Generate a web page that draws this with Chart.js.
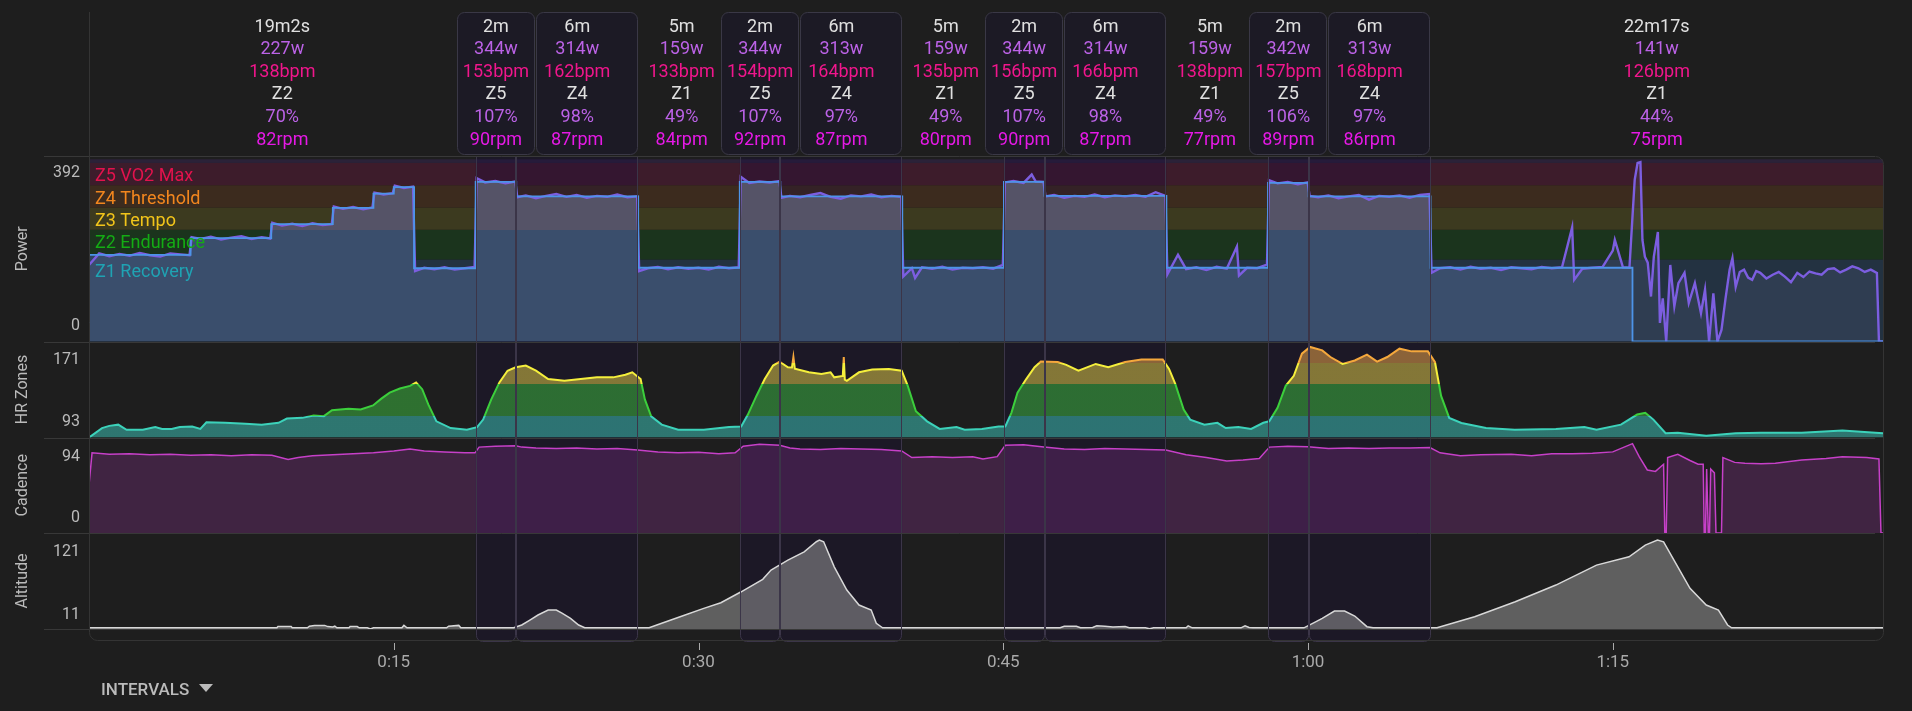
<!DOCTYPE html>
<html>
<head>
<meta charset="utf-8">
<script src="https://cdn.jsdelivr.net/npm/chart.js@4.4.1/dist/chart.umd.min.js"></script>
<style>
  html, body { margin: 0; padding: 0; background: #1e1e1e; }
  #wrap { position: relative; width: 1912px; height: 711px; }
  #intervals { position: absolute; left: 101px; top: 679px; font: 500 17px Roboto, sans-serif; color: #bbb; }
  #intervals .caret { display: inline-block; width: 0; height: 0; border-left: 7px solid transparent;
    border-right: 7px solid transparent; border-top: 8px solid #bbb; margin-left: 10px; position: relative; top: -3px; }
</style>
</head>
<body>
<div id="wrap">
  <canvas id="chart" width="1912" height="711"></canvas>
  <div id="intervals">INTERVALS<span class="caret"></span></div>
</div>
<script>
// ---- intervals (minutes) ----
const intervalStart = [0, 19.03, 21.03, 27.03, 32.03, 34.03, 40.03, 45.03, 47.03, 53.03, 58.03, 60.03, 66.03];
const intervalEnd   = [19.03, 21.03, 27.03, 32.03, 34.03, 40.03, 45.03, 47.03, 53.03, 58.03, 60.03, 66.03, 88.3];
const intervalWork  = [0, 1, 1, 0, 1, 1, 0, 1, 1, 0, 1, 1, 0];
const intervalDur   = ['19m2s', '2m', '6m', '5m', '2m', '6m', '5m', '2m', '6m', '5m', '2m', '6m', '22m17s'];
const intervalWatts = ['227w', '344w', '314w', '159w', '344w', '313w', '159w', '344w', '314w', '159w', '342w', '313w', '141w'];
const intervalBpm   = ['138bpm', '153bpm', '162bpm', '133bpm', '154bpm', '164bpm', '135bpm', '156bpm', '166bpm', '138bpm', '157bpm', '168bpm', '126bpm'];
const intervalZone  = ['Z2', 'Z5', 'Z4', 'Z1', 'Z5', 'Z4', 'Z1', 'Z5', 'Z4', 'Z1', 'Z5', 'Z4', 'Z1'];
const intervalPct   = ['70%', '107%', '98%', '49%', '107%', '97%', '49%', '107%', '98%', '49%', '106%', '97%', '44%'];
const intervalRpm   = ['82rpm', '90rpm', '87rpm', '84rpm', '92rpm', '87rpm', '80rpm', '90rpm', '87rpm', '77rpm', '89rpm', '86rpm', '75rpm'];

// ---- axis tick labels ----
const timeTicks = [15, 30, 45, 60, 75];
const timeLabels = ['0:15', '0:30', '0:45', '1:00', '1:15'];
const powerTicks = ['0', '392'];
const hrTicks = ['93', '171'];
const cadTicks = ['0', '94'];
const altTicks = ['11', '121'];

// ---- power zones (watts) ----
const powerZoneNames = ['Z1 Recovery', 'Z2 Endurance', 'Z3 Tempo', 'Z4 Threshold', 'Z5 VO2 Max', ''];
const powerZoneFrom  = [0, 177, 241, 289, 337, 385];
const powerZoneTo    = [177, 241, 289, 337, 385, 393];

// ---- hr zones (chart units) ----
const hrZoneFrom = [93, 110.9, 136.4, 153.7];
const hrZoneTo   = [110.9, 136.4, 153.7, 171];

// ---- interval power steps ----
const stepMin   = [0, 5, 8.97, 12, 14, 15, 16, 19.03, 21.03, 27.03, 32.03, 34.03, 40.03, 45.03, 47.03, 53.03, 58.03, 60.03, 66.03, 75.97, 88.3];
const stepWatts = [187, 223, 253, 288, 319, 333, 158, 344, 313, 159, 344, 313, 159, 344, 314, 159, 342, 313, 159, 0, 0];

// ---- raw power ----
const powerMin = [
  0, 0.5, 1, 1.5, 2, 2.5, 3, 3.5, 4, 4.5, 4.95,
  5.05, 5.5, 6, 6.5, 7, 7.5, 8, 8.5, 8.92,
  9.02, 9.5, 10, 10.5, 11, 11.5, 11.95,
  12.05, 12.5, 13, 13.5, 13.95,
  14.05, 14.5, 14.95,
  15.05, 15.5, 15.95,
  16.05, 16.5, 17, 17.5, 18, 18.5, 18.98,
  19.08, 19.5, 20, 20.5, 20.98,
  21.08, 21.5, 22, 22.5, 23, 23.5, 24, 24.5, 25, 25.5, 26, 26.5, 26.98,
  27.08, 27.5, 28, 28.5, 29, 29.5, 30, 30.5, 31, 31.5, 31.98,
  32.08, 32.5, 33, 33.5, 33.98,
  34.08, 34.5, 35, 35.5, 36, 36.5, 37, 37.5, 38, 38.5, 39, 39.5, 39.98,
  40.08, 40.5, 40.66, 41, 41.5, 42, 42.5, 43, 43.5, 44, 44.5, 44.98,
  45.08, 45.5, 46, 46.4, 46.6, 46.98,
  47.08, 47.5, 48, 48.5, 49, 49.5, 50, 50.5, 51, 51.5, 52, 52.5, 52.98,
  53.08, 53.6, 54, 54.5, 55, 55.5, 56, 56.5, 56.6, 57, 57.5, 57.98,
  58.08, 58.5, 59, 59.5, 59.98,
  60.08, 60.5, 61, 61.5, 62, 62.5, 63, 63.5, 64, 64.5, 65, 65.5, 65.98,
  66.08, 66.5, 67, 67.5, 68, 68.5, 69, 69.5, 70, 70.5, 71, 71.5, 72, 72.5, 73, 73.1, 73.5, 74, 74.5, 75, 75.1, 75.5, 75.82,
  75.92, 76.08, 76.22, 76.36, 76.46, 76.58, 76.72, 76.88, 77.02, 77.22, 77.32, 77.46, 77.63, 77.83, 78.03, 78.23,
  78.53, 78.74, 79.04, 79.34, 79.54, 79.74, 79.95, 80.15, 80.35, 80.55, 80.75, 80.89,
  81.05, 81.25, 81.46, 81.66, 81.86, 82.06, 82.26, 82.56, 82.87, 83.17, 83.47, 83.77, 84.08, 84.38, 84.68, 84.98,
  85.28, 85.58, 85.89, 86.19, 86.49, 86.79, 87.09, 87.4, 87.7, 88.0, 88.1, 88.3
];
const powerWatts = [
  165, 190, 184, 189, 185, 191, 186, 183, 190, 188, 186,
  225, 221, 226, 220, 224, 227, 221, 225, 222,
  256, 250, 254, 249, 255, 251, 253,
  291, 286, 290, 285, 289,
  321, 317, 320,
  336, 331, 334,
  152, 159, 156, 160, 155, 158, 161,
  352, 343, 346, 341, 345,
  311, 315, 309, 314, 318, 312, 316, 310, 314, 312, 317, 311, 313,
  152, 158, 161, 156, 160, 157, 159, 155, 161, 158, 160,
  355, 342, 345, 343, 346,
  310, 314, 311, 316, 320, 312, 308, 315, 313, 317, 311, 314, 312,
  140, 158, 137, 160, 157, 161, 155, 159, 158, 160, 157, 165,
  343, 346, 342, 360, 345, 344,
  313, 316, 310, 314, 312, 317, 311, 315, 313, 316, 312, 322, 314,
  145, 187, 156, 160, 154, 161, 157, 205, 142, 159, 158, 166,
  348, 341, 344, 339, 343,
  314, 311, 315, 309, 313, 316, 306, 314, 312, 315, 310, 316, 318,
  148, 158, 160, 155, 161, 157, 159, 154, 160, 158, 156, 161, 158, 160, 246, 133, 157, 159, 161, 196, 219, 160, 159,
  233, 349, 385, 387, 219, 183, 170, 97, 183, 236, 40, 93, 0, 165, 76, 126,
  148, 83, 126, 61, 112, 0, 104, 0, 25, 93, 155, 180,
  118, 150, 155, 138, 133, 152, 148, 136, 144, 150, 140, 128, 148, 139, 151, 147,
  144, 156, 158, 149, 155, 162, 158, 150, 155, 148, 0, 0
];

// ---- heart rate ----
const hrMin = [
  0, 0.64, 1, 1.44, 1.85, 2.65, 3.26, 3.6, 4.07, 4.47, 5.08, 5.48, 5.78, 6.7, 7.7, 8.5, 9.33, 9.74, 10.5, 11.06,
  11.56, 11.96, 12.77, 13.37, 13.98, 14.39, 14.8, 15.3, 15.8, 16.1, 16.4, 16.7, 17.1, 17.8, 18.6, 19.1, 19.4, 19.8,
  20.2, 20.6, 21, 21.5, 22, 22.6, 23.4, 24.2, 25, 25.8, 26.4, 26.74, 27.15, 27.36, 27.67, 28.19, 29, 30.26, 31.5,
  32.1, 32.43, 32.85, 33.26, 33.67, 33.99, 34.4, 34.6, 34.67, 34.74, 35.43, 36.05, 36.5, 36.68, 37.1, 37.15, 37.2,
  37.3, 37.9, 38.55, 39.37, 40, 40.3, 40.7, 41.25, 41.87, 42.7, 43.1, 43.95, 44.77, 45.1, 45.4, 45.7, 46.13, 46.54,
  46.85, 47.68, 48.1, 48.7, 49.55, 50.17, 51, 51.8, 52.85, 53.16, 53.47, 53.88, 54.2, 54.9, 55.54, 55.95, 56.57,
  57.2, 57.8, 58.09, 58.5, 58.9, 59.3, 59.7, 60.1, 60.7, 61.1, 61.7, 62.3, 62.9, 63.4, 63.9, 64.5, 65.1, 65.9,
  66.25, 66.55, 66.95, 67.55, 68.76, 70.17, 72.2, 73.6, 74.2, 75.4, 76.2, 76.6, 77, 77.6, 78.2, 79.6, 81.05, 82.3,
  84.3, 86.3, 88.3
];
const hrVal = [
  93, 100.7, 102.5, 103.5, 99.3, 99.3, 101.5, 100, 100, 101.5, 102, 100, 105.4, 105, 104.3, 103.5, 105, 108.4, 109, 110.9,
  110.4, 115.2, 116.4, 115.8, 119.1, 124.6, 129.5, 132.8, 135, 137.8, 132.3, 119.9, 106.2, 100.7, 99.3, 101.5, 107.6, 124,
  137.8, 147.3, 150.1, 151.5, 147.3, 140.5, 139.1, 140.5, 141.9, 141.9, 144, 146, 140.5, 124, 110.3, 103.5, 99.3, 99.3, 101.5,
  102, 111.7, 126.8, 140.5, 151.5, 154.7, 150.1, 150, 158.4, 149, 146, 144.6, 146, 141.9, 143, 158.4, 140,
  139.1, 146, 148.2, 148.7, 147.3, 135, 114.4, 106.2, 100, 101.5, 99.3, 100, 102, 102, 113.1, 129.5, 140.5, 150.1,
  154.7, 154.3, 152, 147.3, 152.8, 150.1, 154.3, 156.4, 156.4, 148.7, 136.4, 115.8, 107.6, 103.5, 105, 100.7, 101.5,
  100, 105, 106.2, 117.2, 135, 143.2, 161.1, 166.6, 163.8, 158.4, 152.8, 155.6, 160.3, 154.7, 158.4, 165.2, 163, 163,
  154.2, 126.8, 109, 104.9, 100.7, 99.3, 100, 101.5, 99.3, 103.5, 111.7, 113.1, 107.6, 96.6, 97, 94.4, 96.6, 97,
  97, 98.8, 96.6
];

// ---- cadence ----
const cadMin = [
  0, 0.15, 1, 2, 3, 4, 5, 6, 7, 8, 9, 9.8, 10.3, 11, 12, 13, 14, 15, 15.8, 16.5, 17.5, 18.5, 19, 19.2, 20, 21, 21.3,
  22, 23, 24, 25, 26, 27, 28, 29, 30, 31, 31.8, 32.2, 33, 34, 34.5, 35, 36, 37, 38, 39, 40, 40.5, 41.5, 42.5, 43.5,
  44, 44.7, 45.1, 46, 47, 48, 49, 50, 51, 52, 53, 54, 55, 56, 56.8, 57.6, 58.1, 59, 60, 61, 62, 63, 64, 65, 66, 66.5,
  67.5, 68.5, 70, 71, 72, 73, 74, 75, 75.97, 76.3, 76.7, 77.1, 77.5, 77.56, 77.63, 77.7, 78.2, 78.8, 79.2, 79.45,
  79.5, 79.56, 79.62, 79.7, 79.76, 79.82, 80, 80.08, 80.35, 80.42, 81, 81.5, 82.3, 83, 84.3, 85.5, 86.3, 87.5, 88.1, 88.2, 88.3
];
const cadRpm = [
  50, 84, 82.5, 83, 82, 82.5, 81.5, 82, 81, 82, 81.5, 77, 79, 81, 82, 83, 84, 86, 88, 86, 85, 84, 84, 90, 91, 91.5, 90,
  89, 88.5, 89, 88, 88.5, 87, 85, 84, 84.5, 83, 84, 91, 93, 92, 89, 88, 87.5, 88.5, 88, 87.5, 86, 79, 80, 79, 80,
  77.5, 80, 92, 92.5, 90, 88, 87.5, 88.5, 88, 87.5, 87, 82, 79, 75.5, 76.5, 78, 90, 91, 90.5, 88.5, 89, 88.5, 89, 89, 89.5, 84,
  81, 82, 82.5, 81, 83, 83, 83.5, 85, 93.6, 80, 66, 64.5, 72, 0, 0, 79, 82.5, 76, 72, 72,
  0, 0, 67, 0, 0, 67, 63, 0, 0, 79, 74, 73, 72.5, 73, 76.5, 78, 80, 79, 77.5, 0, 0
];

// ---- altitude ----
const altMin = [
  0, 9.25, 9.3, 9.95, 10, 10.75, 10.85, 11.1, 11.6, 11.75, 12, 12.1, 12.2, 12.8, 12.85, 13.2, 13.3, 13.7, 13.85, 14,
  15.4, 15.5, 15.65, 17.6, 17.7, 18.2, 18.3, 20.9, 21.3, 21.7, 22.1, 22.6, 23, 23.3, 23.7, 24.1, 24.4, 27.57, 28.19,
  29.2, 30.26, 31.1, 32.1, 33.16, 33.57, 34.4, 35.2, 35.8, 35.95, 36.16, 36.68, 37.3, 37.9, 38.5, 38.75, 39.06, 47.8,
  48, 48.6, 48.8, 49.4, 49.6, 50, 50.4, 51, 51.2, 52, 52.2, 52.4, 54, 54.1, 54.3, 56.7, 56.9, 57.1, 57.3, 59.8, 60.3,
  60.7, 61.3, 61.8, 62.3, 62.9, 63.2, 66.35, 68.2, 70.2, 72.2, 74.2, 75.8, 76.6, 77.2, 77.5, 78.2, 78.8, 79.6, 80.2,
  80.65, 80.85, 88.3
];
const altM = [
  11.5, 11.5, 13, 13, 11.5, 11.5, 13.5, 14.5, 14.5, 13, 12.5, 13.5, 11.5, 11.5, 13, 13, 11.5, 11.5, 10, 11.5,
  11.5, 14.5, 11.5, 11.5, 13.5, 14.5, 11.5, 11.5, 15, 21.2, 27.5, 33.7, 33.7, 29.6, 23.3, 15, 11.5, 11.5, 17.1,
  26.2, 35.8, 42.8, 56.5, 72, 83.6, 96, 106.4, 119, 121, 118.9, 87.7, 58.6, 39.9, 33.7, 17.1, 11.5, 11.5,
  13.5, 13.5, 11.5, 12, 14, 13.5, 12.5, 13, 11.5, 11.5, 10.2, 11.5, 11.5, 14, 11.5, 11.5, 14, 12, 11.5, 11.5, 17.9,
  23.3, 32.4, 32.4, 26.2, 12.9, 11.5, 11.5, 25.4, 44, 64.9, 89.8, 100.2, 114.8, 121, 118.9, 87.7, 60.8, 39.9, 33.7,
  15, 11.5, 11.5
];

const zip = (xs, ys) => xs.map((x, i) => ({x: x, y: ys[i]}));

// colours
const zoneFill = ['#233241', '#1b341d', '#3c3a1f', '#3c2b1e', '#3d1c2b', '#2b2238'];
const zoneText = ['#1fa3b3', '#14ac14', '#f2c41a', '#f2861e', '#e3124d', ''];
const zoneLabelAt = [148, 212, 258, 307, 355];
const hrFill = ['rgba(57,177,167,0.6)', 'rgba(57,167,60,0.6)', 'rgba(202,183,68,0.6)', 'rgba(214,150,70,0.6)'];
const hrLine = ['#3cd2ba', '#3ccf3c', '#f5ef3c', '#f5a83c'];
const headerColors = ['#e0e0e0', '#bb62e6', '#f0168c', '#e0e0e0', '#bb62e6', '#e619e6'];

function zoneGradient(ctx, cols, from, to, axisId) {
  const chart = ctx.chart;
  const s = chart.scales[axisId];
  if (!s || !chart.chartArea) return cols[0];
  const y0 = s.getPixelForValue(s.min), y1 = s.getPixelForValue(s.max);
  const g = chart.ctx.createLinearGradient(0, y0, 0, y1);
  const span = s.max - s.min;
  from.forEach((lo, i) => {
    g.addColorStop(Math.max(0, (lo - s.min) / span), cols[i]);
    g.addColorStop(Math.min(1, (to[i] - s.min) / span), cols[i]);
  });
  return g;
}

function stepFillColor(ctx) {
  const chart = ctx.chart;
  const s = chart.scales.yPow;
  if (!s || !chart.chartArea) return '#2f4560';
  const g = chart.ctx.createLinearGradient(0, s.getPixelForValue(0), 0, s.getPixelForValue(s.max));
  const f = 241 / s.max;
  g.addColorStop(0, '#2f4560'); g.addColorStop(f, '#2f4560');
  g.addColorStop(f, '#4e4a5b'); g.addColorStop(1, '#4e4a5b');
  return g;
}

const colBottom = 641;

const decor = {
  id: 'decor',
  beforeDatasetsDraw(chart) {
    const {ctx, chartArea: a, scales: {x, yPow}} = chart;
    ctx.save();
    powerZoneFrom.forEach((lo, i) => {
      const t = yPow.getPixelForValue(powerZoneTo[i]), b = yPow.getPixelForValue(lo);
      ctx.fillStyle = zoneFill[i];
      ctx.fillRect(a.left, t, a.right - a.left, b - t);
    });
    ctx.fillStyle = 'rgba(20,0,70,0.2)';
    intervalWork.forEach((w, i) => {
      if (!w) return;
      const x0 = x.getPixelForValue(intervalStart[i]), x1 = x.getPixelForValue(intervalEnd[i]);
      ctx.beginPath();
      ctx.roundRect(x0, yPow.top, x1 - x0, colBottom - yPow.top, [0, 0, 6, 6]);
      ctx.fill();
    });
    ctx.restore();
  },
  afterDatasetsDraw(chart) {
    const {ctx, chartArea: a, scales: {x, yPow, yHr, yCad, yAlt}} = chart;
    ctx.save();
    // zone names
    ctx.font = '18px Roboto';
    ctx.textAlign = 'left';
    ctx.textBaseline = 'middle';
    zoneLabelAt.forEach((v, i) => {
      ctx.fillStyle = zoneText[i];
      ctx.fillText(powerZoneNames[i], a.left + 6, yPow.getPixelForValue(v));
    });
    // work interval column borders
    ctx.strokeStyle = '#3b3548';
    ctx.lineWidth = 1;
    intervalWork.forEach((w, i) => {
      if (!w) return;
      const x0 = Math.round(x.getPixelForValue(intervalStart[i])) + 0.5;
      const x1 = Math.round(x.getPixelForValue(intervalEnd[i])) - 0.5;
      const top = yPow.top, bot = colBottom + 0.5, r = 6;
      ctx.beginPath();
      ctx.moveTo(x0, top);
      ctx.lineTo(x0, bot - r);
      ctx.arcTo(x0, bot, x0 + r, bot, r);
      ctx.lineTo(x1 - r, bot);
      ctx.arcTo(x1, bot, x1, bot - r, r);
      ctx.lineTo(x1, top);
      ctx.stroke();
    });
    // panel separators
    ctx.strokeStyle = '#383838';
    [yPow.top, yPow.bottom, yHr.bottom, yCad.bottom, yAlt.bottom].forEach(y => {
      const yy = Math.round(y) + 0.5;
      ctx.beginPath();
      ctx.moveTo(44, yy);
      ctx.lineTo(a.right - 8, yy);
      ctx.stroke();
    });
    // frame
    ctx.strokeStyle = '#343434';
    const L = Math.round(a.left) + 0.5, R = Math.round(a.right) + 0.5, B = colBottom - 0.5, T = Math.round(yPow.top) + 0.5;
    ctx.beginPath();
    ctx.moveTo(L, 12);
    ctx.lineTo(L, B - 8);
    ctx.arcTo(L, B, L + 8, B, 8);
    ctx.lineTo(R - 8, B);
    ctx.arcTo(R, B, R, B - 8, 8);
    ctx.lineTo(R, T + 8);
    ctx.arcTo(R, T, R - 8, T, 8);
    ctx.stroke();
    // x tick marks
    ctx.strokeStyle = '#aaa';
    x.ticks.forEach(t => {
      const xx = Math.round(x.getPixelForValue(t.value)) + 0.5;
      ctx.beginPath();
      ctx.moveTo(xx, 643);
      ctx.lineTo(xx, 650);
      ctx.stroke();
    });
    // interval header: boxes first, then text
    const boxL = [], boxR = [];
    let prevRight = -Infinity;
    intervalStart.forEach((s, i) => {
      const x0 = x.getPixelForValue(s), x1 = x.getPixelForValue(intervalEnd[i]);
      const c = (x0 + x1) / 2;
      let l = x0, r = x1;
      if (intervalWork[i]) {
        if (r - l < 78) { l = c - 39; r = c + 39; }
        if (l < prevRight + 1) l = prevRight + 1;
        ctx.beginPath();
        ctx.roundRect(Math.round(l) + 0.5, 12.5, Math.round(r - l) - 1, 142, 7);
        ctx.fillStyle = '#1c1a25';
        ctx.fill();
        ctx.strokeStyle = '#3a3846';
        ctx.stroke();
        prevRight = r;
      }
      boxL.push(l); boxR.push(r);
    });
    const rows = [intervalDur, intervalWatts, intervalBpm, intervalZone, intervalPct, intervalRpm];
    ctx.font = '18px Roboto';
    ctx.textAlign = 'center';
    ctx.textBaseline = 'middle';
    intervalStart.forEach((s, i) => {
      let c = (x.getPixelForValue(s) + x.getPixelForValue(intervalEnd[i])) / 2;
      if (!intervalWork[i] && i > 0 && i < intervalStart.length - 1) {
        c = (boxR[i - 1] + boxL[i + 1]) / 2 + 2;
      }
      rows.forEach((row, k) => {
        ctx.fillStyle = headerColors[k];
        ctx.fillText(row[i], c, 27 + k * 22.6);
      });
    });
    ctx.restore();
  }
};

function yAxis(title, min, max, weight, stackWeight, tickAt, labels) {
  return {
    type: 'linear', position: 'left', stack: 'panels', weight: weight, stackWeight: stackWeight,
    min: min, max: max,
    grid: {display: false, drawTicks: false},
    border: {display: false},
    afterBuildTicks: s => { s.ticks = tickAt.map(v => ({value: v})); },
    afterFit: s => { s.width = 89; },
    ticks: {color: '#bbb', font: {size: 16}, padding: 9, callback: (v, i) => labels[i]},
    title: {display: true, text: title, color: '#bbb', font: {size: 16}, padding: {top: 13, bottom: 0}}
  };
}

Chart.defaults.font.family = 'Roboto';

new Chart(document.getElementById('chart'), {
  type: 'line',
  data: {
    datasets: [
      {data: zip(stepMin, stepWatts), yAxisID: 'yPow', stepped: true, fill: false,
        borderColor: '#4d94e8', borderWidth: 1.8, pointRadius: 0, order: 1},
      {data: zip(powerMin, powerWatts), yAxisID: 'yPow', fill: 'origin',
        backgroundColor: 'rgba(140,150,200,0.12)', borderColor: '#7c5ee0', borderWidth: 2.4, pointRadius: 0, order: 2},
      {data: zip(stepMin, stepWatts), yAxisID: 'yPow', stepped: true, fill: 'origin',
        backgroundColor: stepFillColor, borderWidth: 0, pointRadius: 0, order: 3},
      {data: zip(hrMin, hrVal), yAxisID: 'yHr', fill: 'start',
        backgroundColor: ctx => zoneGradient(ctx, hrFill, hrZoneFrom, hrZoneTo, 'yHr'),
        borderColor: ctx => zoneGradient(ctx, hrLine, hrZoneFrom, hrZoneTo, 'yHr'),
        borderWidth: 2, pointRadius: 0, order: 4},
      {data: zip(cadMin, cadRpm), yAxisID: 'yCad', fill: 'origin',
        backgroundColor: 'rgba(200,60,210,0.2)', borderColor: '#c640c8', borderWidth: 1.5, pointRadius: 0, order: 5},
      {data: zip(altMin, altM), yAxisID: 'yAlt', fill: 'start',
        backgroundColor: 'rgba(160,160,160,0.5)', borderColor: '#d8d8d8', borderWidth: 1.5, pointRadius: 0, order: 6}
    ]
  },
  options: {
    responsive: false,
    animation: false,
    devicePixelRatio: 1,
    layout: {padding: {top: 156, right: 29, bottom: 0, left: 0}},
    plugins: {legend: {display: false}, tooltip: {enabled: false}},
    scales: {
      x: {
        type: 'linear', min: 0, max: 88.3,
        grid: {display: true, drawOnChartArea: false, drawTicks: true, tickLength: 20, tickColor: 'rgba(0,0,0,0)'},
        border: {display: false},
        afterBuildTicks: s => { s.ticks = timeTicks.map(v => ({value: v})); },
        afterFit: s => { s.height = 82; },
        ticks: {color: '#aaa', font: {size: 17}, padding: 4, maxRotation: 0, callback: (v, i) => timeLabels[i]}
      },
      yAlt: yAxis('Altitude', 10, 130, 1, 96, [27.5, 106.6], altTicks),
      yCad: yAxis('Cadence', 0, 100, 2, 95.3, [15.7, 80], cadTicks),
      yHr: yAxis('HR Zones', 93, 171, 3, 96, [106, 156.1], hrTicks),
      yPow: yAxis('Power', 0, 400, 4, 185.4, [34, 364], powerTicks)
    }
  },
  plugins: [decor]
});
</script>
</body>
</html>
